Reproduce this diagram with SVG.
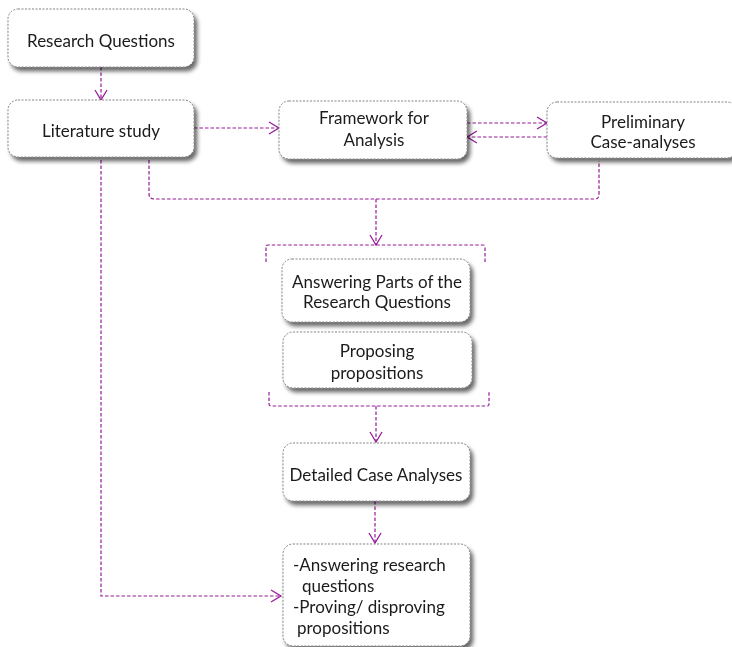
<svg xmlns="http://www.w3.org/2000/svg" width="732" height="647" viewBox="0 0 732 647">
  <defs>
    <filter id="shadow" x="-10%" y="-10%" width="130%" height="140%">
      <feGaussianBlur in="SourceAlpha" stdDeviation="2.2"/>
      <feOffset dx="3" dy="4" result="b"/>
      <feComponentTransfer><feFuncA type="linear" slope="0.6"/></feComponentTransfer>
      <feMerge><feMergeNode/><feMergeNode in="SourceGraphic"/></feMerge>
    </filter>
    <marker id="vee" markerWidth="14" markerHeight="14" refX="11" refY="7" orient="auto" markerUnits="userSpaceOnUse">
      <path d="M1,1 L11,7 L1,13" fill="none" stroke="#951c99" stroke-width="1.3"/>
    </marker>
  </defs>
  <style>
    .box { fill: #ffffff; stroke: #777777; stroke-width: 0.9; stroke-dasharray: 2 1.5; }
    .lbl { font-family: "Lato", "Open Sans", "Liberation Sans", sans-serif; font-size: 17px; fill: #1a1a1a; }
    .c { text-anchor: middle; }
    .link { fill: none; stroke: #951c99; stroke-width: 1.2; stroke-dasharray: 3.5 2; }
  </style>

  <g id="connectors">
    <path class="link" d="M101,67 V100" marker-end="url(#vee)"/>
    <path class="link" d="M194,128 H279" marker-end="url(#vee)"/>
    <path class="link" d="M467,123 H547" marker-end="url(#vee)"/>
    <path class="link" d="M547,137 H467" marker-end="url(#vee)"/>
    <path class="link" d="M149,160 V194 Q149,199 154,199 H595 Q599,199 599,194 V161"/>
    <path class="link" d="M376,199 V245" marker-end="url(#vee)"/>
    <path class="link" d="M266,262 V246 Q266,245 268,245 H483 Q485,245 485,247 V262"/>
    <path class="link" d="M269,392 V404 Q269,406 271,406 H487 Q489,406 489,404 V392"/>
    <path class="link" d="M376,406 V442" marker-end="url(#vee)"/>
    <path class="link" d="M375,501 V543" marker-end="url(#vee)"/>
    <path class="link" d="M101,160 V596 H281" marker-end="url(#vee)"/>
  </g>

  <g id="research-questions" filter="url(#shadow)">
    <rect class="box" x="8" y="9" width="186" height="58" rx="10"/>
    <text class="lbl c" x="101" y="47">Research Questions</text>
  </g>

  <g id="literature-study" filter="url(#shadow)">
    <rect class="box" x="8" y="100" width="186" height="57" rx="10"/>
    <text class="lbl c" x="101" y="137">Literature study</text>
  </g>

  <g id="framework" filter="url(#shadow)">
    <rect class="box" x="279" y="101" width="188" height="58" rx="10"/>
    <text class="lbl c" x="374" y="124">Framework for</text>
    <text class="lbl c" x="374" y="146">Analysis</text>
  </g>

  <g id="preliminary" filter="url(#shadow)">
    <rect class="box" x="547" y="102" width="190" height="56" rx="10"/>
    <text class="lbl c" x="643" y="128">Preliminary</text>
    <text class="lbl c" x="643" y="148">Case-analyses</text>
  </g>

  <g id="answering-parts" filter="url(#shadow)">
    <rect class="box" x="282" y="259" width="188" height="63" rx="10"/>
    <text class="lbl c" x="377" y="288">Answering Parts of the</text>
    <text class="lbl c" x="377" y="308">Research Questions</text>
  </g>

  <g id="proposing" filter="url(#shadow)">
    <rect class="box" x="283" y="332" width="189" height="56" rx="10"/>
    <text class="lbl c" x="377" y="357">Proposing</text>
    <text class="lbl c" x="377" y="379">propositions</text>
  </g>

  <g id="detailed-case" filter="url(#shadow)">
    <rect class="box" x="283" y="443" width="187" height="58" rx="10"/>
    <text class="lbl c" x="376" y="481">Detailed Case Analyses</text>
  </g>

  <g id="conclusions" filter="url(#shadow)">
    <rect class="box" x="283" y="544" width="187" height="102" rx="10"/>
    <text class="lbl" x="293" y="571">-Answering research</text>
    <text class="lbl" x="302" y="592">questions</text>
    <text class="lbl" x="293" y="613">-Proving/ disproving</text>
    <text class="lbl" x="297" y="634">propositions</text>
  </g>
</svg>
